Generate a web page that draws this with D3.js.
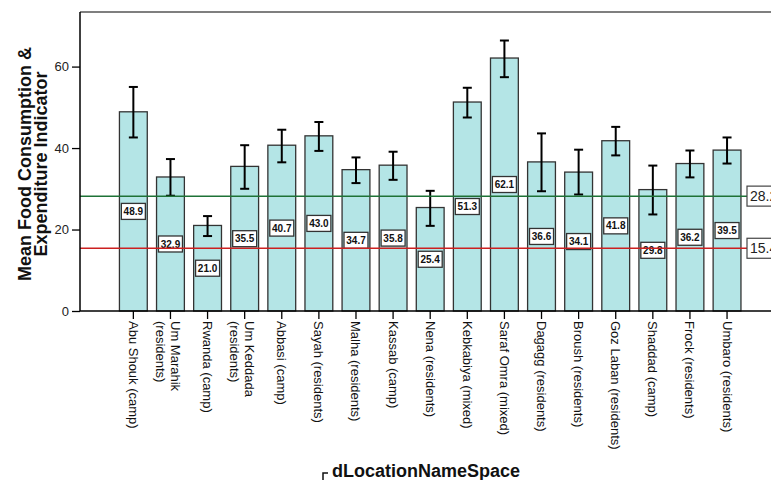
<!DOCTYPE html>
<html>
<head>
<meta charset="utf-8">
<script src="https://cdn.jsdelivr.net/npm/d3@7"></script>
<style>
  html, body { margin: 0; padding: 0; background: #fff; }
  svg { display: block; font-family: "Liberation Sans", Arial, sans-serif; }
</style>
</head>
<body>
<div id="chart"></div>
<script>
const categories = [
  'Abu Shouk (camp)', 'Um Marahik\n(residents)', 'Rwanda (camp)', 'Um Keddada\n(residents)',
  'Abbasi (camp)', 'Sayah (residents)', 'Malha (residents)', 'Kassab (camp)', 'Nena (residents)',
  'Kebkabiya (mixed)', 'Saraf Omra (mixed)', 'Dagagg (residents)', 'Broush (residents)',
  'Goz Laban (residents)', 'Shaddad (camp)', 'Frock (residents)', 'Umbaro (residents)',
];
const means = [48.9, 32.9, 21.0, 35.5, 40.7, 43.0, 34.7, 35.8, 25.4, 51.3, 62.1, 36.6, 34.1, 41.8, 29.8, 36.2, 39.5];
const errLow = [42.6, 28.3, 18.4, 30.0, 36.5, 39.3, 31.4, 32.2, 20.9, 47.5, 57.4, 29.4, 28.6, 38.2, 23.7, 32.8, 36.2];
const errHigh = [55.0, 37.3, 23.3, 40.7, 44.5, 46.4, 37.7, 39.1, 29.5, 54.8, 66.4, 43.6, 39.6, 45.2, 35.7, 39.4, 42.6];
const yTicks = [0, 20, 40, 60];
const refValues = [28.2, 15.4];
const refColors = ['#1e7236', '#cc2020'];

const width = 771;
const height = 480;
const margin = { top: 12, left: 80, bottom: 311 };

const svg = d3.select('#chart').append('svg').attr('width', width).attr('height', height);

const x = d3.scaleBand().domain(categories).range([114.8, 745.6]).paddingInner(0.25).paddingOuter(0.125);
const y = d3.scaleLinear().domain([0, 73.4]).range([margin.bottom, margin.top]);

// frame top
svg.append('line').attr('x1', margin.left).attr('x2', width).attr('y1', margin.top).attr('y2', margin.top)
  .attr('stroke', '#555').attr('stroke-width', 1.5);

// bars
svg.append('g').selectAll('rect').data(categories).join('rect')
  .attr('x', (d) => x(d)).attr('y', (d, i) => y(means[i]))
  .attr('width', x.bandwidth()).attr('height', (d, i) => y(0) - y(means[i]))
  .attr('fill', '#b4e5e6').attr('stroke', '#333').attr('stroke-width', 1.3);

// value labels in the middle of each bar
const lab = svg.append('g').selectAll('g').data(categories).join('g')
  .attr('transform', (d, i) => `translate(${x(d) + x.bandwidth() / 2},${y(means[i] / 2)})`);
lab.append('rect').attr('x', -12).attr('y', -8).attr('width', 24).attr('height', 16)
  .attr('fill', '#fff').attr('stroke', '#333').attr('stroke-width', 1.3);
lab.append('text').attr('text-anchor', 'middle').attr('dy', '0.36em').attr('font-size', 10)
  .attr('font-weight', 'bold').attr('fill', '#111').text((d, i) => means[i].toFixed(1));

// error bars
const eb = svg.append('g').attr('stroke', '#000').attr('stroke-width', 2);
categories.forEach((c, i) => {
  const cx = x(c) + x.bandwidth() / 2;
  eb.append('line').attr('x1', cx).attr('x2', cx).attr('y1', y(errLow[i])).attr('y2', y(errHigh[i]));
  eb.append('line').attr('x1', cx - 4.5).attr('x2', cx + 4.5).attr('y1', y(errLow[i])).attr('y2', y(errLow[i]));
  eb.append('line').attr('x1', cx - 4.5).attr('x2', cx + 4.5).attr('y1', y(errHigh[i])).attr('y2', y(errHigh[i]));
});

// reference lines
refValues.forEach((v, i) => {
  svg.append('line').attr('x1', margin.left).attr('x2', 747).attr('y1', y(v)).attr('y2', y(v))
    .attr('stroke', refColors[i]).attr('stroke-width', 1.5);
  svg.append('rect').attr('x', 747).attr('y', y(v) - 10).attr('width', 34).attr('height', 20)
    .attr('fill', '#fff').attr('stroke', '#444').attr('stroke-width', 1.2);
  svg.append('text').attr('x', 750).attr('y', y(v)).attr('dy', '0.36em').attr('font-size', 14)
    .attr('fill', '#222').text(v.toFixed(1));
});

// y axis
const yAxis = svg.append('g').attr('transform', `translate(${margin.left},0)`)
  .call(d3.axisLeft(y).tickValues(yTicks).tickSize(8).tickPadding(3).tickSizeOuter(0));
yAxis.select('.domain').attr('stroke', '#000').attr('stroke-width', 1.5).attr('d', `M0,${margin.top}V${margin.bottom}`);
yAxis.selectAll('.tick line').attr('stroke', '#000').attr('stroke-width', 1.3);
yAxis.selectAll('.tick text').attr('font-size', 13).attr('fill', '#222').attr('font-family', null);

// x axis
svg.append('line').attr('x1', margin.left).attr('x2', width).attr('y1', margin.bottom).attr('y2', margin.bottom)
  .attr('stroke', '#000').attr('stroke-width', 1.5);
const xt = svg.append('g').selectAll('g').data(categories).join('g')
  .attr('transform', (d) => `translate(${x(d) + x.bandwidth() / 2},${margin.bottom})`);
xt.append('line').attr('y1', 0).attr('y2', 8).attr('stroke', '#000').attr('stroke-width', 1.3);
xt.append('text').attr('transform', 'translate(0,10) rotate(90)').attr('font-size', 13).attr('fill', '#111')
  .each(function (d) {
    const lines = d.split('\n');
    const t = d3.select(this);
    lines.forEach((ln, k) => {
      const base = lines.length === 1 ? 4.5 : -0.5 + k * 15;
      t.append('tspan').attr('x', 0).attr('y', base).text(ln);
    });
  });

// axis titles
svg.append('text').attr('transform', 'translate(31,164) rotate(-90)').attr('text-anchor', 'middle')
  .attr('font-size', 18).attr('font-weight', 'bold').attr('fill', '#111')
  .selectAll('tspan').data(['Mean Food Consumption &', 'Expenditure Indicator']).join('tspan')
  .attr('x', 0).attr('y', (d, i) => i * 16).text((d) => d);

svg.append('path').attr('d', 'M323,480V473H328').attr('fill', 'none').attr('stroke', '#111').attr('stroke-width', 1.5);
svg.append('text').attr('x', 426).attr('y', 477).attr('text-anchor', 'middle').attr('font-size', 18)
  .attr('font-weight', 'bold').attr('fill', '#111').text('dLocationNameSpace');
</script>
</body>
</html>
